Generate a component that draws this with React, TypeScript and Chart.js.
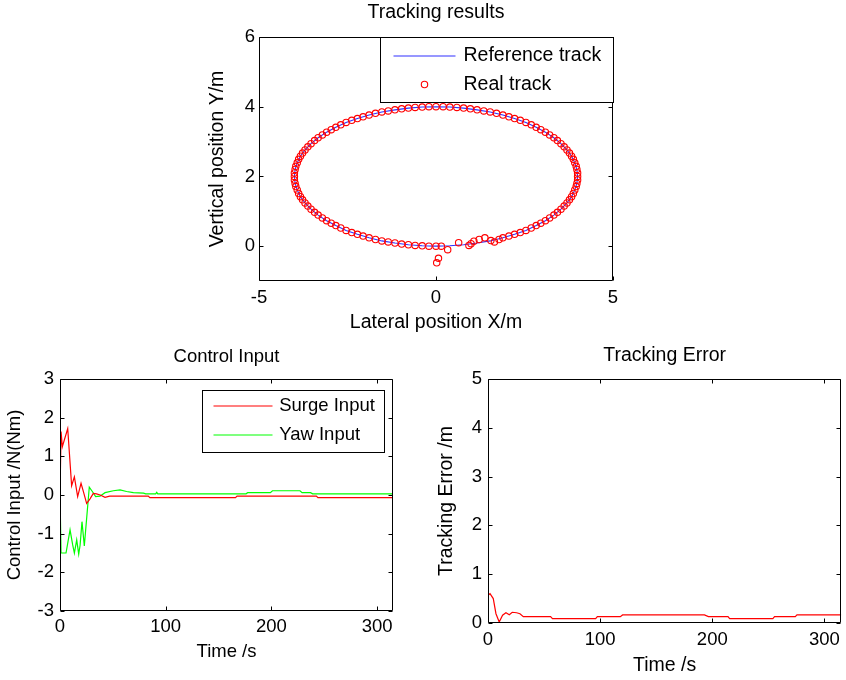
import React, { useEffect, useRef } from "react";
import { Chart, registerables } from "chart.js";

Chart.register(...registerables);

const FONT = "'Liberation Sans', Arial, Helvetica, sans-serif";

// ---------------- data ----------------
const trackXTicks = [-5, 0, 5];
const trackYTicks = [0, 2, 4, 6];
const timeTicks = [0, 100, 200, 300];
const inputTicks = [-3, -2, -1, 0, 1, 2, 3];
const errorTicks = [0, 1, 2, 3, 4, 5];

// reference ellipse track (blue line)
const refX = [
  0, 0.39, 0.78, 1.16, 1.53, 1.89, 2.22, 2.54, 2.83, 3.09, 3.33, 3.53, 3.7, 3.83, 3.92, 3.98, 4,
  3.98, 3.92, 3.83, 3.7, 3.53, 3.33, 3.09, 2.83, 2.54, 2.22, 1.89, 1.53, 1.16, 0.78, 0.39, 0,
  -0.39, -0.78, -1.16, -1.53, -1.89, -2.22, -2.54, -2.83, -3.09, -3.33, -3.53, -3.7, -3.83, -3.92, -3.98, -4,
  -3.98, -3.92, -3.83, -3.7, -3.53, -3.33, -3.09, -2.83, -2.54, -2.22, -1.89, -1.53, -1.16, -0.78, -0.39, 0,
];
const refY = [
  0, 0.01, 0.04, 0.09, 0.15, 0.24, 0.34, 0.45, 0.59, 0.73, 0.89, 1.06, 1.24, 1.42, 1.61, 1.8, 2,
  2.2, 2.39, 2.58, 2.76, 2.94, 3.11, 3.27, 3.41, 3.55, 3.66, 3.76, 3.85, 3.91, 3.96, 3.99, 4,
  3.99, 3.96, 3.91, 3.85, 3.76, 3.66, 3.55, 3.41, 3.27, 3.11, 2.94, 2.76, 2.58, 2.39, 2.2, 2,
  1.8, 1.61, 1.42, 1.24, 1.06, 0.89, 0.73, 0.59, 0.45, 0.34, 0.24, 0.15, 0.09, 0.04, 0.01, 0,
];

// real track (red circles)
const realX = [
  0.02, 0.07, 0.33, 0.64, 0.93, 0.99, 1.07, 1.22, 1.38, 1.55, 1.65, 1.78,
  1.89, 2.06, 2.22, 2.38, 2.54, 2.69, 2.83, 2.96, 3.09, 3.21, 3.33, 3.43, 3.53, 3.62, 3.7, 3.77, 3.83, 3.88, 3.92, 3.96, 3.98, 4.0, 4.0,
  4.0, 3.98, 3.96, 3.92, 3.88, 3.83, 3.77, 3.7, 3.62, 3.53, 3.43, 3.33, 3.21, 3.09, 2.96, 2.83, 2.69, 2.54, 2.38, 2.22, 2.06, 1.89, 1.71, 1.53, 1.35, 1.16, 0.97, 0.78, 0.59, 0.39, 0.2, 0,
  -0.2, -0.39, -0.59, -0.78, -0.97, -1.16, -1.35, -1.53, -1.71, -1.89, -2.06, -2.22, -2.38, -2.54, -2.69, -2.83, -2.96, -3.09, -3.21, -3.33, -3.43, -3.53, -3.62, -3.7, -3.77, -3.83, -3.88, -3.92, -3.96, -3.98, -4.0, -4.0,
  -4.0, -3.98, -3.96, -3.92, -3.88, -3.83, -3.77, -3.7, -3.62, -3.53, -3.43, -3.33, -3.21, -3.09, -2.96, -2.83, -2.69, -2.54, -2.38, -2.22, -2.06, -1.89, -1.71, -1.53, -1.35, -1.16, -0.97, -0.78, -0.59, -0.39, -0.2, 0,
  0.15,
];
const realY = [
  -0.48, -0.35, -0.1, 0.1, 0.02, 0.07, 0.14, 0.19, 0.24, 0.16, 0.12, 0.19,
  0.24, 0.29, 0.34, 0.39, 0.45, 0.52, 0.59, 0.66, 0.73, 0.81, 0.89, 0.97, 1.06, 1.15, 1.24, 1.33, 1.42, 1.51, 1.61, 1.71, 1.8, 1.9, 2.0,
  2.1, 2.2, 2.29, 2.39, 2.49, 2.58, 2.67, 2.76, 2.85, 2.94, 3.03, 3.11, 3.19, 3.27, 3.34, 3.41, 3.48, 3.55, 3.61, 3.66, 3.71, 3.76, 3.81, 3.85, 3.88, 3.91, 3.94, 3.96, 3.98, 3.99, 4.0, 4.0,
  4.0, 3.99, 3.98, 3.96, 3.94, 3.91, 3.88, 3.85, 3.81, 3.76, 3.71, 3.66, 3.61, 3.55, 3.48, 3.41, 3.34, 3.27, 3.19, 3.11, 3.03, 2.94, 2.85, 2.76, 2.67, 2.58, 2.49, 2.39, 2.29, 2.2, 2.1, 2.0,
  1.9, 1.8, 1.71, 1.61, 1.51, 1.42, 1.33, 1.24, 1.15, 1.06, 0.97, 0.89, 0.81, 0.73, 0.66, 0.59, 0.52, 0.45, 0.39, 0.34, 0.29, 0.24, 0.19, 0.15, 0.12, 0.09, 0.06, 0.04, 0.02, 0.01, 0, 0,
  0,
];

// control input
const surgeT = [0, 1, 2.2, 7.3, 11, 13.6, 16.7, 19.9, 22, 25.2, 28.4, 31.5, 34.5, 38, 42.6, 47, 83.5, 85, 166, 167.5, 242.5, 244, 315];
const surgeV = [0, 1.64, 1.25, 1.72, 0.24, 0.47, -0.04, 0.3, 0.1, -0.22, -0.1, 0.04, 0.03, 0, -0.06, -0.03, -0.03, -0.07, -0.07, -0.03, -0.03, -0.07, -0.07];
const yawT = [0, 1, 5.7, 9.5, 12, 13.6, 15.8, 17.7, 19, 20.8, 23, 27.7, 30.6, 33.7, 37.8, 42.6, 50.5, 56.8, 63, 69.4, 79, 81, 90.5, 91.5, 92.5, 176, 177.5, 199, 201, 227, 229, 237, 239, 315];
const yawV = [0, -1.5, -1.5, -0.9, -1.29, -1.5, -1.16, -1.53, -1.3, -0.69, -1.32, 0.2, 0.09, -0.04, -0.03, 0.06, 0.11, 0.13, 0.09, 0.06, 0.05, 0.03, 0.03, 0.07, 0.03, 0.03, 0.06, 0.06, 0.11, 0.11, 0.06, 0.06, 0.03, 0.03];

// tracking error
const errT = [0, 1.8, 4.7, 7.1, 10, 13, 16, 19, 21.6, 25.5, 28.5, 31.5, 55.8, 57.5, 96, 97.5, 118, 120, 193, 196.5, 214, 215.5, 254, 255.5, 274, 275.5, 315];
const errV = [0.57, 0.6, 0.5, 0.19, 0.02, 0.16, 0.21, 0.17, 0.22, 0.21, 0.19, 0.13, 0.13, 0.09, 0.09, 0.13, 0.13, 0.165, 0.165, 0.13, 0.13, 0.09, 0.09, 0.13, 0.13, 0.165, 0.165];

const zip = (xs: number[], ys: number[]) => xs.map((x, i) => ({ x, y: ys[i] }));

// ---------------- plugins ----------------
const framePlugin = {
  id: "frame",
  afterDatasetsDraw(chart: any) {
    const { ctx, chartArea: a, scales } = chart;
    const xs = scales.x;
    const ys = scales.y;
    const L = Math.round(a.left) + 0.5;
    const R = Math.round(a.right) - 0.5;
    const T = Math.round(a.top) + 0.5;
    const B = Math.round(a.bottom) - 0.5;
    const len = 4;
    ctx.save();
    ctx.strokeStyle = "#000";
    ctx.lineWidth = 1;
    ctx.beginPath();
    ctx.rect(L, T, R - L, B - T);
    xs.ticks.forEach((t: any) => {
      const px = Math.round(xs.getPixelForValue(t.value)) + 0.5;
      ctx.moveTo(px, B);
      ctx.lineTo(px, B - len);
      ctx.moveTo(px, T);
      ctx.lineTo(px, T + len);
    });
    ys.ticks.forEach((t: any) => {
      const py = Math.round(ys.getPixelForValue(t.value)) + 0.5;
      ctx.moveTo(L, py);
      ctx.lineTo(L + len, py);
      ctx.moveTo(R, py);
      ctx.lineTo(R - len, py);
    });
    ctx.stroke();
    ctx.restore();
  },
};

const legendPlugin = {
  id: "boxLegend",
  afterDraw(chart: any, _args: any, opts: any) {
    if (!opts || !opts.width) return;
    const { ctx, chartArea: a } = chart;
    const bx = Math.round(a.right - opts.right - opts.width) + 0.5;
    const by = Math.round(a.top + opts.top) + 0.5;
    ctx.save();
    ctx.fillStyle = "#fff";
    ctx.fillRect(bx, by, opts.width, opts.height);
    ctx.strokeStyle = "#000";
    ctx.lineWidth = 1;
    ctx.strokeRect(bx, by, opts.width, opts.height);
    chart.data.datasets.forEach((ds: any, i: number) => {
      const cy = by + opts.rows[i];
      if (ds.pointRadius > 0) {
        ctx.beginPath();
        ctx.strokeStyle = ds.pointBorderColor;
        ctx.lineWidth = ds.pointBorderWidth;
        ctx.arc(bx + (opts.x0 + opts.x1) / 2, cy, ds.pointRadius, 0, Math.PI * 2);
        ctx.stroke();
      } else {
        const ly = Math.round(cy);
        ctx.beginPath();
        ctx.strokeStyle = ds.borderColor;
        ctx.lineWidth = ds.borderWidth;
        ctx.moveTo(bx + opts.x0, ly);
        ctx.lineTo(bx + opts.x1, ly);
        ctx.stroke();
      }
      ctx.fillStyle = "#000";
      ctx.font = `${opts.size}px ${FONT}`;
      ctx.textAlign = "left";
      ctx.textBaseline = "middle";
      ctx.fillText(ds.label, bx + opts.textX, cy);
    });
    ctx.restore();
  },
};

// ---------------- helpers ----------------
type AxisCfg = {
  min: number;
  max: number;
  ticks: number[];
  title: string;
  size: number; // thickness of axis box
  tickPad: number;
  titlePad: number;
  tickFont: number;
  titleFont: number;
};

function xAxis(c: AxisCfg) {
  return {
    type: "linear",
    min: c.min,
    max: c.max,
    afterBuildTicks: (s: any) => {
      s.ticks = c.ticks.map((v) => ({ value: v }));
    },
    afterFit: (s: any) => {
      s.height = c.size;
    },
    grid: { display: false, drawTicks: false },
    border: { display: false },
    ticks: {
      color: "#000",
      padding: c.tickPad,
      autoSkip: false,
      maxRotation: 0,
      minRotation: 0,
      font: { family: FONT, size: c.tickFont },
    },
    title: {
      display: true,
      text: c.title,
      color: "#000",
      font: { family: FONT, size: c.titleFont },
      padding: { top: 0, bottom: c.titlePad },
    },
  };
}

function yAxis(c: AxisCfg) {
  return {
    type: "linear",
    min: c.min,
    max: c.max,
    afterBuildTicks: (s: any) => {
      s.ticks = c.ticks.map((v) => ({ value: v }));
    },
    afterFit: (s: any) => {
      s.width = c.size;
    },
    grid: { display: false, drawTicks: false },
    border: { display: false },
    ticks: {
      color: "#000",
      padding: c.tickPad,
      autoSkip: false,
      font: { family: FONT, size: c.tickFont },
    },
    title: {
      display: true,
      text: c.title,
      color: "#000",
      font: { family: FONT, size: c.titleFont },
      padding: { top: c.titlePad, bottom: 0 },
    },
  };
}

function baseOptions(o: {
  padRight: number;
  title: string;
  titleFont: number;
  titlePad: [number, number];
  x: any;
  y: any;
  legend?: any;
}) {
  return {
    responsive: false,
    maintainAspectRatio: false,
    animation: false,
    devicePixelRatio: 1,
    events: [],
    layout: { padding: { left: 0, right: o.padRight, top: 0, bottom: 0 } },
    scales: { x: o.x, y: o.y },
    plugins: {
      legend: { display: false },
      tooltip: { enabled: false },
      title: {
        display: true,
        text: o.title,
        fullSize: false,
        color: "#000",
        font: { family: FONT, size: o.titleFont, weight: "normal" },
        padding: { top: o.titlePad[0], bottom: o.titlePad[1] },
      },
      boxLegend: o.legend || {},
    },
  };
}

function trackConfig(): any {
  return {
    type: "scatter",
    data: {
      datasets: [
        {
          label: "Reference track",
          data: zip(refX, refY),
          showLine: true,
          borderColor: "#3030ff",
          borderWidth: 1.1,
          pointRadius: 0,
          order: 2,
        },
        {
          label: "Real track",
          data: zip(realX, realY),
          showLine: false,
          pointRadius: 3.2,
          pointBorderColor: "#ff0000",
          pointBackgroundColor: "rgba(0,0,0,0)",
          pointBorderWidth: 1.1,
          borderColor: "#ff0000",
          order: 1,
        },
      ],
    },
    options: baseOptions({
      padRight: 27,
      title: "Tracking results",
      titleFont: 19.5,
      titlePad: [0.8, 12.8],
      x: xAxis({ min: -5, max: 5, ticks: trackXTicks, title: "Lateral position X/m", size: 59, tickPad: 5.4, titlePad: 5.7, tickFont: 18.5, titleFont: 19.5 }),
      y: yAxis({ min: -1, max: 6, ticks: trackYTicks, title: "Vertical position Y/m", size: 79, tickPad: 4, titlePad: 25.8, tickFont: 18.5, titleFont: 19.5 }),
      legend: { right: 0, top: 0, width: 233, height: 65, rows: [18, 47], x0: 13, x1: 75, textX: 83, size: 19.5 },
    }),
    plugins: [framePlugin, legendPlugin],
  };
}

function inputConfig(): any {
  return {
    type: "line",
    data: {
      datasets: [
        {
          label: "Surge Input",
          data: zip(surgeT, surgeV),
          borderColor: "#ff0000",
          borderWidth: 1.2,
          pointRadius: 0,
          tension: 0,
        },
        {
          label: "Yaw Input",
          data: zip(yawT, yawV),
          borderColor: "#00ff00",
          borderWidth: 1.2,
          pointRadius: 0,
          tension: 0,
        },
      ],
    },
    options: baseOptions({
      padRight: 27,
      title: "Control Input",
      titleFont: 18.5,
      titlePad: [5.6, 11.2],
      x: xAxis({ min: 0, max: 315, ticks: timeTicks, title: "Time /s", size: 69, tickPad: 4.6, titlePad: 17.2, tickFont: 18.5, titleFont: 18.5 }),
      y: yAxis({ min: -3, max: 3, ticks: inputTicks, title: "Control Input /N(Nm)", size: 60, tickPad: 6, titlePad: 3.5, tickFont: 18.5, titleFont: 18.5 }),
      legend: { right: 9, top: 11, width: 182, height: 62, rows: [15.7, 44.3], x0: 11, x1: 70, textX: 76.7, size: 18.5 },
    }),
    plugins: [framePlugin, legendPlugin],
  };
}

function errorConfig(): any {
  return {
    type: "line",
    data: {
      datasets: [
        {
          label: "Tracking Error",
          data: zip(errT, errV),
          borderColor: "#ff0000",
          borderWidth: 1.2,
          pointRadius: 0,
          tension: 0,
        },
      ],
    },
    options: baseOptions({
      padRight: 4,
      title: "Tracking Error",
      titleFont: 19.5,
      titlePad: [3.6, 12],
      x: xAxis({ min: 0, max: 315, ticks: timeTicks, title: "Time /s", size: 57, tickPad: 5.9, titlePad: 3, tickFont: 18.5, titleFont: 19.5 }),
      y: yAxis({ min: 0, max: 5, ticks: errorTicks, title: "Tracking Error /m", size: 68, tickPad: 6, titlePad: 14.6, tickFont: 18.5, titleFont: 19.5 }),
    }),
    plugins: [framePlugin],
  };
}

function Panel(props: { left: number; top: number; width: number; height: number; make: () => any }) {
  const ref = useRef<HTMLCanvasElement>(null);
  useEffect(() => {
    if (!ref.current) return;
    const chart = new Chart(ref.current, props.make());
    return () => chart.destroy();
  }, []);
  return (
    <canvas
      ref={ref}
      width={props.width}
      height={props.height}
      style={{ position: "absolute", left: props.left, top: props.top, width: props.width, height: props.height }}
    />
  );
}

export default function App() {
  return (
    <div style={{ position: "absolute", left: 0, top: 0, width: 846, height: 680, background: "#fff", overflow: "hidden" }}>
      <Panel left={180} top={0} width={460} height={340} make={trackConfig} />
      <Panel left={0} top={340} width={420} height={340} make={inputConfig} />
      <Panel left={420} top={340} width={426} height={340} make={errorConfig} />
    </div>
  );
}
